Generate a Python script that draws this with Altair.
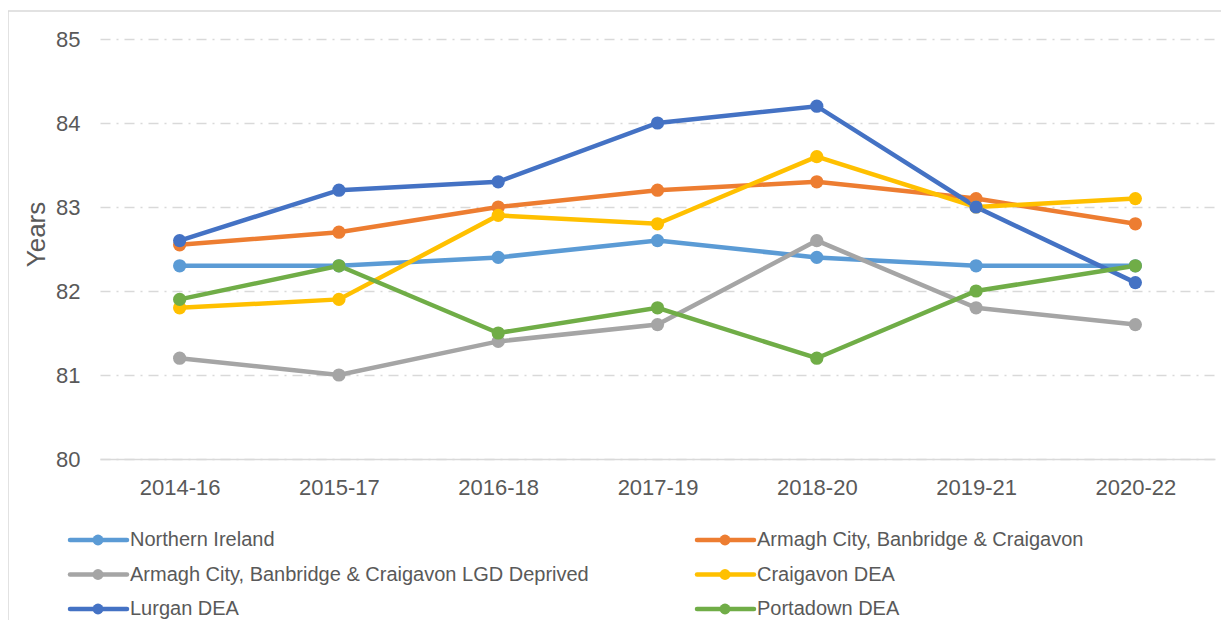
import altair as alt
import pandas as pd

periods = ["2014-16", "2015-17", "2016-18", "2017-19", "2018-20", "2019-21", "2020-22"]
series_names = [
    "Northern Ireland",
    "Armagh City, Banbridge & Craigavon",
    "Armagh City, Banbridge & Craigavon LGD Deprived",
    "Craigavon DEA",
    "Lurgan DEA",
    "Portadown DEA",
]
northern_ireland = [82.3, 82.3, 82.4, 82.6, 82.4, 82.3, 82.3]
abc = [82.55, 82.7, 83.0, 83.2, 83.3, 83.1, 82.8]
abc_deprived = [81.2, 81.0, 81.4, 81.6, 82.6, 81.8, 81.6]
craigavon = [81.8, 81.9, 82.9, 82.8, 83.6, 83.0, 83.1]
lurgan = [82.6, 83.2, 83.3, 84.0, 84.2, 83.0, 82.1]
portadown = [81.9, 82.3, 81.5, 81.8, 81.2, 82.0, 82.3]
colors = ["#5B9BD5", "#ED7D31", "#A5A5A5", "#FFC000", "#4472C4", "#70AD47"]

all_values = [northern_ireland, abc, abc_deprived, craigavon, lurgan, portadown]
rows = []
for si, (name, vals) in enumerate(zip(series_names, all_values)):
    for p, v in zip(periods, vals):
        rows.append({"series": name, "line_series": name, "period": p, "value": v, "order": si})
df = pd.DataFrame(rows)

# legend table: two columns, filled row by row
legend_df = pd.DataFrame({
    "series": series_names,
    "line_series": series_names,
    "col": [i % 2 for i in range(len(series_names))],
    "row": [i // 2 for i in range(len(series_names))],
})

font = "Liberation Sans"
text_color = "#595959"

x_enc = alt.X("period:N", sort=periods, scale=alt.Scale(paddingOuter=0.5, paddingInner=0),
              axis=alt.Axis(title=None, labelFontSize=22, labelColor=text_color, labelFont=font,
                            labelPadding=18, ticks=False, domainColor="#d9d9d9", domainWidth=1.5,
                            labelAngle=0, grid=False))
y_enc = alt.Y("value:Q", scale=alt.Scale(domain=[80, 85], nice=False, zero=False),
              axis=alt.Axis(title="Years", titleFontSize=26, titleFont=font, titleColor=text_color,
                            titleFontWeight="normal", titlePadding=6, titleY=195,
                            labelFontSize=22, labelColor=text_color, labelFont=font, labelPadding=20,
                            values=[80, 81, 82, 83, 84, 85], ticks=False, domain=False,
                            gridColor="#d9d9d9", gridWidth=1.5, gridDash=[10, 6, 2, 6]))

stroke_scale = alt.Scale(domain=series_names, range=colors)

frame = alt.Chart(pd.DataFrame({"k": [0]})).mark_rect(
    fill=None, stroke="#d9d9d9", strokeWidth=1.5
).encode(x=alt.value(-92), x2=alt.value(1140), y=alt.value(-28), y2=alt.value(700))

lines = alt.Chart(df).mark_line(strokeWidth=4.5).encode(
    x=x_enc, y=y_enc,
    stroke=alt.Stroke("line_series:N", scale=stroke_scale, legend=None),
    order=alt.Order("order:Q"),
    detail="line_series:N",
)

points = alt.Chart(df).mark_point(filled=True, size=175, opacity=1).encode(
    x=x_enc, y=y_enc,
    color=alt.Color("series:N", scale=stroke_scale, legend=None),
)

main = alt.layer(frame, lines, points)

# custom legend drawn below the plot
lx = alt.X("col:Q", scale=alt.Scale(domain=[0, 1], range=[-30, 597]), axis=None)
ly = alt.Y("row:Q", scale=alt.Scale(domain=[0, 2], range=[501, 570]), axis=None)

leg_rule = alt.Chart(legend_df).mark_rule(strokeWidth=4.5, x2Offset=57, strokeCap="round").encode(
    x=lx, x2="col:Q", y=ly,
    stroke=alt.Stroke("line_series:N", scale=stroke_scale, legend=None),
)
leg_pt = alt.Chart(legend_df).mark_point(filled=True, size=120, opacity=1, xOffset=28).encode(
    x=lx, y=ly,
    color=alt.Color("series:N", scale=stroke_scale, legend=None),
)
leg_txt = alt.Chart(legend_df).mark_text(align="left", baseline="middle", dx=60, fontSize=20,
                                         font=font, color=text_color).encode(
    x=lx, y=ly, text="series:N",
)
legend = alt.layer(leg_rule, leg_pt, leg_txt)

chart = alt.layer(main, legend).resolve_scale(x="independent", y="independent").properties(
    width=1115, height=420,
    padding={"left": 92, "top": 31, "right": 6, "bottom": 161},
    autosize=alt.AutoSizeParams(type="none"),
).configure(background="white").configure_view(stroke=None)

chart.save("out.html", embed_options={"renderer": "svg", "actions": False})
